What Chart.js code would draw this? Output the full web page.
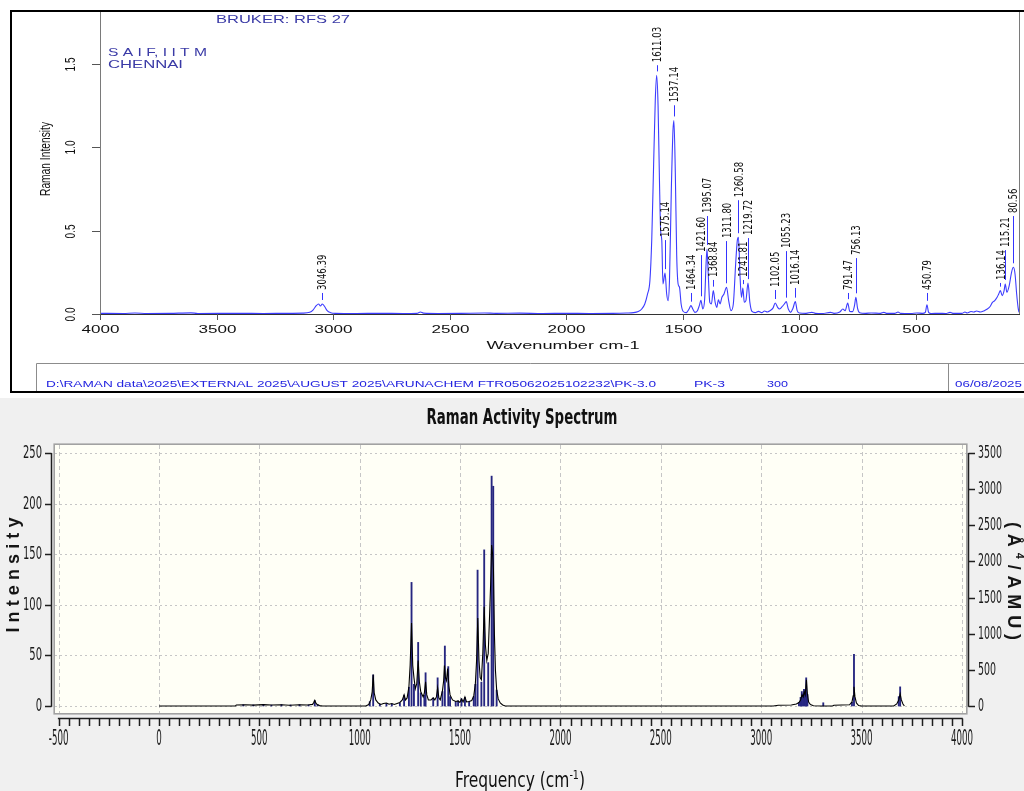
<!DOCTYPE html>
<html><head><meta charset="utf-8">
<script src="https://cdn.jsdelivr.net/npm/chart.js@4.4.0/dist/chart.umd.min.js"></script>
<style>
html,body{margin:0;padding:0;background:#fff;width:1024px;height:791px;overflow:hidden;}
#top{position:absolute;left:0;top:0;width:1024px;height:396px;}
#bot{position:absolute;left:0;top:398px;width:1024px;height:393px;background:#f0f0f0;}
canvas{display:block}
</style></head><body>
<div id="top"><canvas id="c1" width="1024" height="396" style="width:1024px;height:396px"></canvas></div>
<div id="bot"><canvas id="c2" width="1024" height="393" style="width:1024px;height:393px"></canvas></div>
<script>
// ---------- Top chart (experimental FT-Raman) ----------
const topXTicks = [4000,3500,3000,2500,2000,1500,1000,500];
const topXTickLabels = ['4000','3500','3000','2500','2000','1500','1000','500'];
const topYTicks = [0.0,0.5,1.0,1.5];
const topYTickLabels = ['0.0','0.5','1.0','1.5'];

const expWavenumber = [
4000,3900,3850,3800,3700,3610,3580,3400,3300,3200,
3130,3100,3085,3072,3062,3054,3046,3036,3025,3010,
2990,2900,2800,2700,2640,2625,2612,2550,2450,2350,
2300,2200,2100,2000,1900,1800,1740,1710,1690,1675,
1662,1650,1640,1632,1624,1617,1611,1605,1599,1594,
1589,1584,1575,1568,1562,1556,1548,1541,1537,1531,
1525,1519,1513,1506,1497,1484,1472,1464,1456,1447,
1436,1428,1421,1413,1405,1399,1395,1390,1383,1376,
1368,1360,1353,1346,1339,1331,1322,1311,1302,1292,
1282,1272,1265,1260,1253,1247,1241,1235,1228,1219,
1211,1202,1188,1174,1160,1148,1136,1124,1112,1102,
1092,1083,1072,1063,1055,1046,1036,1026,1016,1008,
998,970,945,930,900,865,850,825,812,802,
791,782,770,762,756,749,740,715,690,650,
636,625,590,575,565,520,495,470,458,451,
444,432,400,370,352,340,300,288,278,262,
250,238,222,205,192,180,170,160,150,143,
136,128,120,115,108,98,88,80,73,66,
60,56];
const expIntensity = [
0.004,0.003,0.006,0.003,0.004,0.007,0.003,0.004,0.003,0.004,
0.005,0.010,0.025,0.050,0.060,0.048,0.060,0.045,0.020,0.008,
0.004,0.003,0.004,0.003,0.004,0.012,0.005,0.003,0.004,0.006,
0.004,0.005,0.003,0.004,0.003,0.004,0.006,0.008,0.015,0.030,
0.060,0.120,0.200,0.450,0.900,1.280,1.430,1.250,0.800,0.500,
0.440,0.180,0.245,0.120,0.080,0.200,0.750,1.100,1.160,0.850,
0.350,0.180,0.160,0.060,0.015,0.008,0.030,0.050,0.030,0.010,
0.020,0.050,0.082,0.030,0.090,0.300,0.390,0.250,0.070,0.060,
0.140,0.070,0.040,0.085,0.060,0.100,0.120,0.160,0.080,0.020,
0.060,0.300,0.440,0.460,0.220,0.100,0.155,0.070,0.080,0.185,
0.070,0.015,0.008,0.016,0.008,0.018,0.012,0.020,0.035,0.066,
0.040,0.030,0.045,0.060,0.074,0.030,0.010,0.035,0.074,0.020,
0.006,0.004,0.010,0.004,0.003,0.010,0.004,0.012,0.030,0.020,
0.065,0.015,0.014,0.050,0.100,0.035,0.008,0.004,0.006,0.004,
0.010,0.004,0.004,0.012,0.004,0.003,0.006,0.004,0.010,0.055,
0.010,0.003,0.004,0.003,0.010,0.004,0.004,0.012,0.006,0.015,
0.012,0.018,0.012,0.020,0.030,0.045,0.070,0.080,0.100,0.120,
0.140,0.110,0.140,0.180,0.130,0.170,0.250,0.280,0.240,0.120,
0.040,0.010];

const peakLabels = ['3046.39','1611.03','1575.14','1537.14','1464.34','1421.60','1395.07','1368.84','1311.80','1260.58','1241.81','1219.72','1102.05','1055.23','1016.14','791.47','756.13','450.79','136.14','115.21','80.56'];

// ---------- Bottom chart (calculated Raman activity) ----------
const botXTicks = [-500,0,500,1000,1500,2000,2500,3000,3500,4000];
const botXTickLabels = ['-500','0','500','1000','1500','2000','2500','3000','3500','4000'];
const botYTicks = [0,50,100,150,200,250];
const botYTickLabels = ['0','50','100','150','200','250'];
const botY2Ticks = [0,500,1000,1500,2000,2500,3000,3500];
const botY2TickLabels = ['0','500','1000','1500','2000','2500','3000','3500'];

const calcFrequency = [
0,380,385,430,470,520,560,610,650,700,
740,765,771,776,781,788,800,815,1030,1045,
1055,1062,1067,1072,1080,1092,1105,1118,1133,1146,
1160,1172,1186,1200,1212,1221,1228,1236,1245,1251,
1258,1264,1270,1277,1284,1291,1297,1304,1316,1322,
1328,1334,1342,1355,1366,1374,1382,1388,1394,1401,
1412,1418,1422,1427,1432,1438,1444,1450,1462,1478,
1490,1499,1507,1515,1524,1532,1545,1558,1568,1576,
1582,1588,1594,1600,1606,1613,1620,1626,1633,1640,
1646,1652,1657,1662,1666,1671,1676,1682,1690,1700,
1712,1725,3060,3085,3150,3175,3188,3196,3203,3209,
3214,3219,3225,3230,3236,3245,3260,3300,3355,3362,
3440,3452,3458,3462,3467,3474,3485,3500,3660,3675,
3685,3692,3698,3706,3713];
const calcIntensity = [
0,0,1,1.3,0.9,1.4,1,1.3,0.8,1.2,
1,1.6,3.5,5.5,3,1.4,0.4,0,0,1.5,
6,14,31,13,6,3,1.5,2.5,3,1.8,
2.5,1.5,2.5,3.5,6,11,6,8,19,40,
82,40,28,17,22,45,24,14,9,13,
24,11,6,6,8,6,9,18,8,6,
15,25,40,28,25,37,20,11,6,4.5,
5,3.5,7,4,9,4,4.5,5.5,10,22,
45,87,45,28,26,52,98,60,45,52,
85,120,159,150,135,70,35,16,7,3,
1,0,0,0.8,1,2,3.5,6,11,9,
14,11,26,12,4,1.5,0.3,0,0,0.8,
1.2,4,10,19,9,3,0.5,0,0,2,
6,12,6,2,0];

const stickFrequency = [
420,470,520,560,610,655,700,745,776,790,
1050,1067,1100,1133,1160,1200,1221,1245,1258,1270,
1291,1304,1322,1328,1366,1388,1412,1424,1441,1450,
1478,1490,1507,1524,1545,1568,1576,1587,1606,1620,
1640,1657,1665,1682,3188,3196,3202,3208,3213,3218,
3224,3230,3309,3452,3462,3685,3692];
const stickActivity = [
18,15,22,12,20,14,18,14,75,20,
60,430,25,35,25,40,150,260,1710,300,
880,180,150,460,110,390,200,830,545,130,
60,70,100,120,60,130,300,1880,330,2160,
600,3180,3040,220,50,120,200,170,230,210,
390,160,45,50,715,130,265];

// ---------- helpers ----------
function seg(c,x1,y1,x2,y2){c.beginPath();c.moveTo(x1,y1);c.lineTo(x2,y2);c.stroke();}
function drawText(c,s,x,y,o){
  c.save();
  c.font=o.font; c.fillStyle=o.color||'#000';
  c.textAlign=o.align||'center'; c.textBaseline=o.baseline||'middle';
  c.translate(x,y);
  c.scale(o.sx||1,1);
  if(o.rot) c.rotate(o.rot);
  if(o.fit){const w=c.measureText(s).width; const cur=o.rot?1:(o.sx||1); c.scale(o.fit/(w*cur),1);}
  c.fillText(s,0,0);
  c.restore();
}
function drawSpaced(c,parts,x,y,o){
  c.save(); c.fillStyle=o.color||'#000'; c.textBaseline='middle'; c.textAlign='left';
  c.translate(x,y); c.rotate(o.rot);
  const ws=parts.map(p=>{c.font=p.font;return c.measureText(p.t).width;});
  const total=ws.reduce((a,b)=>a+b,0);
  const gap=(o.length-total)/(parts.length-1);
  let p=-o.length/2;
  parts.forEach((q,i)=>{c.font=q.font;c.fillText(q.t,p,q.dy||0);p+=ws[i]+gap;});
  c.restore();
}
const SANS='"Liberation Sans", Arial, sans-serif';
const NARROW='"Liberation Sans Narrow", "DejaVu Sans Condensed", "Liberation Sans", sans-serif';

// ---------- top chart decoration ----------
const topDecor={
  id:'topDecor',
  beforeDraw(chart){const c=chart.ctx;c.save();c.fillStyle='#fff';c.fillRect(0,0,chart.width,chart.height);c.restore();},
  afterDraw(chart,args,opts){
    const c=chart.ctx,xs=chart.scales.x,ys=chart.scales.y,a=chart.chartArea;
    c.save();
    c.strokeStyle='#000'; c.lineWidth=2;
    seg(c,10,11,1024,11); seg(c,11,10,11,393); seg(c,10,392,1024,392);
    c.strokeStyle='#8c8c8c'; c.lineWidth=1;
    seg(c,36.5,363.5,1024,363.5); seg(c,36.5,363.5,36.5,391); seg(c,948.5,363.5,948.5,391);
    c.strokeStyle='#7a7a7a';
    seg(c,a.left+0.5,a.top,a.left+0.5,a.bottom+1); seg(c,a.right+0.5,a.top,a.right+0.5,a.bottom+1);
    c.strokeStyle='#333';
    seg(c,a.left,a.bottom+0.5,a.right+1,a.bottom+0.5);
    c.strokeStyle='#555';
    topXTicks.forEach((v,i)=>{
      const px=Math.round(xs.getPixelForValue(v))+0.5;
      seg(c,px,a.bottom,px,a.bottom+6);
      drawText(c,topXTickLabels[i],px,330,{font:'11px '+SANS,sx:1.55,color:'#111'});
    });
    topYTicks.forEach((v,i)=>{
      const py=Math.round(ys.getPixelForValue(v))+0.5;
      seg(c,92,py,a.left,py);
      drawText(c,topYTickLabels[i],71,py,{font:'10px '+SANS,sx:1.4,rot:-Math.PI/2,color:'#111'});
    });
    drawText(c,'Wavenumber cm-1',563,346,{font:'11px '+SANS,fit:153,color:'#111'});
    drawText(c,'Raman Intensity',46,159,{font:'11px '+SANS,sx:1.4,rot:-Math.PI/2,fit:74,color:'#111'});
    const blue='#3a3aa6';
    drawText(c,'BRUKER: RFS 27',216,20,{font:'11px '+SANS,align:'left',fit:134,color:blue});
    drawText(c,'S A I F, I I T M',108,53,{font:'11px '+SANS,align:'left',fit:99,color:blue});
    drawText(c,'CHENNAI',108,65,{font:'11px '+SANS,align:'left',fit:75,color:blue});
    const fb='#2424e0';
    drawText(c,'D:\\RAMAN data\\2025\\EXTERNAL 2025\\AUGUST 2025\\ARUNACHEM FTR05062025102232\\PK-3.0',46,385,{font:'9px '+SANS,align:'left',fit:610,color:fb});
    drawText(c,'PK-3',694,385,{font:'9px '+SANS,align:'left',fit:31,color:fb});
    drawText(c,'300',767,385,{font:'9px '+SANS,align:'left',fit:21,color:fb});
    drawText(c,'06/08/2025',955,385,{font:'9px '+SANS,align:'left',fit:67,color:fb});
    c.save(); c.beginPath(); c.rect(a.left,a.top,a.right-a.left,a.bottom-a.top); c.clip();
    peakLabels.forEach((lab,i)=>{
      const w=parseFloat(lab);
      let apex=0;
      expWavenumber.forEach((x,j)=>{if(Math.abs(x-w)<=6&&expIntensity[j]>apex)apex=expIntensity[j];});
      const px=xs.getPixelForValue(w);
      const pyA=ys.getPixelForValue(apex);
      const pyL=ys.getPixelForValue(opts.levels[i]);
      const x0=Math.round(px)+0.5;
      c.strokeStyle='#3434ff'; c.lineWidth=1;
      if(pyA-4>pyL+3) seg(c,x0,pyL+3,x0,pyA-4);
      drawText(c,lab,px+1,pyL,{font:'9.5px '+NARROW,sx:1.3,rot:-Math.PI/2,align:'left',color:'#101010'});
    });
    c.restore();
    c.restore();
  }
};

new Chart(document.getElementById('c1'),{
  type:'line',
  data:{datasets:[{
    label:'PK-3',
    data:expWavenumber.map((w,i)=>({x:w,y:expIntensity[i]})),
    borderColor:'#3c3cff',borderWidth:1.1,pointRadius:0,fill:false,
    cubicInterpolationMode:'monotone'
  }]},
  options:{
    responsive:false,animation:false,devicePixelRatio:1,events:[],
    layout:{padding:{left:100,right:5,top:12,bottom:82}},
    plugins:{legend:{display:false},tooltip:{enabled:false},
      topDecor:{levels:[0.144,1.509,0.461,1.269,0.144,0.371,0.605,0.222,0.455,0.70,0.222,0.473,0.162,0.395,0.174,0.144,0.353,0.144,0.204,0.401,0.605]}},
    scales:{
      x:{type:'linear',display:false,reverse:true,min:56,max:4000},
      y:{type:'linear',display:false,min:0,max:1.81}
    }
  },
  plugins:[topDecor]
});

// ---------- bottom chart decoration ----------
const botDecor={
  id:'botDecor',
  beforeDraw(chart){
    const c=chart.ctx,a=chart.chartArea,xs=chart.scales.x,ys=chart.scales.y;
    c.save();
    c.fillStyle='#f0f0f0'; c.fillRect(0,0,chart.width,chart.height);
    c.fillStyle='#fffff6'; c.fillRect(a.left,a.top,a.right-a.left,a.bottom-a.top);
    c.lineWidth=1; c.strokeStyle='#c6c6c6';
    c.setLineDash([2,3]);
    botYTicks.forEach(v=>{const py=Math.round(ys.getPixelForValue(v))+0.5; seg(c,a.left,py,a.right,py);});
    c.setLineDash([4,3]);
    botXTicks.forEach(v=>{const px=Math.round(xs.getPixelForValue(v))+0.5; if(px>a.left&&px<a.right) seg(c,px,a.top,px,a.bottom);});
    c.restore();
  },
  afterDraw(chart){
    const c=chart.ctx,a=chart.chartArea,xs=chart.scales.x,ys=chart.scales.y,y2=chart.scales.y2;
    c.save();
    c.strokeStyle='#a2a2a2'; c.lineWidth=1.6;
    c.strokeRect(a.left-0.8,a.top-0.8,a.right-a.left+1.6,a.bottom-a.top+1.6);
    c.strokeStyle='#1e1e1e'; c.lineWidth=1.5;
    seg(c,51.5,ys.getPixelForValue(250),51.5,ys.getPixelForValue(0)+0.75);
    c.font='18px '+NARROW;
    const kl=19/c.measureText('250').width;
    botYTicks.forEach((v,i)=>{
      const py=Math.round(ys.getPixelForValue(v))+0.5;
      seg(c,45,py,51.5,py);
      drawText(c,botYTickLabels[i],42,py,{font:'18px '+NARROW,align:'right',sx:kl,color:'#1a1a1a'});
    });
    seg(c,968.5,y2.getPixelForValue(3500),968.5,y2.getPixelForValue(0)+0.75);
    c.font='18px '+NARROW;
    const kr=24/c.measureText('3500').width;
    botY2Ticks.forEach((v,i)=>{
      const py=Math.round(y2.getPixelForValue(v))+0.5;
      seg(c,968.5,py,975,py);
      drawText(c,botY2TickLabels[i],978,py,{font:'18px '+NARROW,align:'left',sx:kr,color:'#1a1a1a'});
    });
    const xl=xs.getPixelForValue(-500), xr=xs.getPixelForValue(4000);
    seg(c,xl-0.75,320.5,xr+0.75,320.5);
    for(let v=-500; v<=4000; v+=50){const px=Math.round(xs.getPixelForValue(v))+0.5; seg(c,px,320.5,px,328);}
    c.font='21px '+NARROW;
    const kx=22/c.measureText('1000').width;
    botXTicks.forEach((v,i)=>{
      drawText(c,botXTickLabels[i],xs.getPixelForValue(v),342,{font:'21px '+NARROW,sx:kx,color:'#1a1a1a'});
    });
    drawText(c,'Raman Activity Spectrum',522,21,{font:'bold 21px '+NARROW,fit:191,color:'#111'});
    const fParts=[{t:'Frequency (cm',f:'21px '+NARROW,dy:0},{t:'-1',f:'13px '+NARROW,dy:-8},{t:')',f:'21px '+NARROW,dy:0}];
    let tw=0; fParts.forEach(p=>{c.font=p.f;p.w=c.measureText(p.t).width;tw+=p.w;});
    const fk=130/tw;
    c.save(); c.translate(455,389); c.scale(fk,1); c.fillStyle='#111'; c.textBaseline='alphabetic'; c.textAlign='left';
    let ox=0; fParts.forEach(p=>{c.font=p.f;c.fillText(p.t,ox,p.dy);ox+=p.w;});
    c.restore();
    const B='bold 18px '+SANS;
    drawSpaced(c,['I','n','t','e','n','s','i','t','y'].map(t=>({t,font:B})),14,177,{rot:-Math.PI/2,length:115,color:'#151515'});
    drawSpaced(c,[{t:'(',font:B},{t:'Å',font:B},{t:'4',font:'bold 11px '+SANS,dy:-6},{t:'/',font:B},{t:'A',font:B},{t:'M',font:B},{t:'U',font:B},{t:')',font:B}],1013,183,{rot:Math.PI/2,length:118,color:'#151515'});
    c.restore();
  }
};

new Chart(document.getElementById('c2'),{
  type:'line',
  data:{datasets:[
    {type:'line',label:'Intensity',data:calcFrequency.map((f,i)=>({x:f,y:calcIntensity[i]})),
     borderColor:'#000',borderWidth:1.1,pointRadius:0,tension:0,fill:false,yAxisID:'y',order:0},
    {type:'bar',label:'Raman Activity',data:stickFrequency.map((f,i)=>({x:f,y:stickActivity[i]})),
     backgroundColor:'#262680',borderWidth:0,barThickness:1.2,grouped:false,yAxisID:'y2',order:1}
  ]},
  options:{
    responsive:false,animation:false,devicePixelRatio:1,events:[],
    layout:{padding:{left:55,right:58,top:47,bottom:78}},
    plugins:{legend:{display:false},tooltip:{enabled:false}},
    scales:{
      x:{type:'linear',display:false,min:-518,max:4020,offset:false},
      y:{type:'linear',display:false,min:-6.9,max:257.9},
      y2:{type:'linear',display:false,position:'right',min:-96.6,max:3610.6}
    }
  },
  plugins:[botDecor]
});
</script>
</body></html>
